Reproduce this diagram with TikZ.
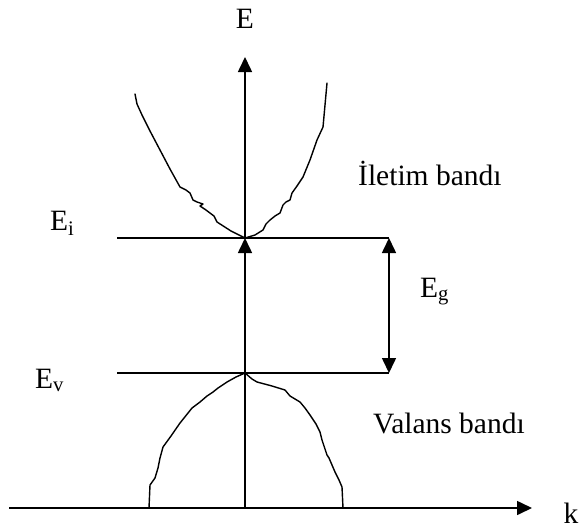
\documentclass[tikz,border=0pt]{standalone}
\usepackage{fontspec}
\setmainfont{Liberation Serif}
\usetikzlibrary{arrows.meta}
\begin{document}
\begin{tikzpicture}[x=1pt,y=-1pt,
  ln/.style={line width=1.6pt},
  arr/.style={ln,-{Triangle[length=15pt,width=14pt]}},
  darr/.style={ln,{Triangle[length=15pt,width=14pt]}-{Triangle[length=15pt,width=14pt]}},
  band/.style={line width=1.4pt,line join=round,line cap=round},
  lbl/.style={inner sep=0pt,font=\fontsize{29.5}{34}\selectfont}]
\useasboundingbox (0,0) rectangle (579,531);
% coordinates
\coordinate (O) at (245,508);
\coordinate (Hs) at (9,508);
\coordinate (Ke) at (532,508);
\coordinate (Ci) at (245,238);
\coordinate (Et) at (245,57);
\coordinate (Vi) at (245,373);
\coordinate (Eis) at (117,238);
\coordinate (Eie) at (389,238);
\coordinate (Evs) at (117,373);
\coordinate (Eve) at (389,373);
% axes
\draw[arr] (Hs) -- (Ke);
\draw[arr] (O) -- (Ci);
\draw[arr] (Ci) -- (Et);
% levels
\draw[ln] (Eis) -- (Eie);
\draw[ln] (Evs) -- (Eve);
\draw[darr] (Eie) -- (Eve);
% conduction band
\draw[band] (135,94) -- (137,104) -- (142,115) -- (150,131) -- (160,150) -- (170,169) -- (180,187) -- (186,190) -- (190,193) -- (193,200) -- (197,202) -- (203,204) -- (200,206) -- (206,210) -- (210,213) -- (214,216) -- (217,222) -- (231,231) -- (Ci);
\draw[band] (327,83) -- (325,105) -- (323,127) -- (317,140) -- (310,160) -- (303,177) -- (297,186) -- (292,193) -- (290,200) -- (286,202) -- (283,205) -- (280,213) -- (275,216) -- (270,220) -- (266,224) -- (263,230) -- (255,235) -- (Ci);
% valence band
\draw[band] (Vi) -- (236,377) -- (227,382) -- (218,388) -- (213,392) -- (207,396) -- (200,402) -- (192,408) -- (188,413) -- (180,423) -- (171,436) -- (163,447) -- (160,458) -- (158,468) -- (155,478) -- (150,485) -- (149,508);
\draw[band] (Vi) -- (252,379) -- (257,382) -- (272,386) -- (285,390) -- (290,396) -- (300,402) -- (305,408) -- (310,415) -- (316,424) -- (320,432) -- (322,440) -- (327,455) -- (329,458) -- (332,465) -- (335,472) -- (339,480) -- (342,487) -- (343,508);
% labels
\node[lbl,anchor=base] (lE) at (245,28) {E};
\node[lbl,anchor=base] (lk) at (571,523) {k};
\node[lbl,anchor=base west] (lEi) at (50,230) {E\textsubscript{i}};
\node[lbl,anchor=base west] (lEv) at (35,388) {E\textsubscript{v}};
\node[lbl,anchor=base west] (lEg) at (420,297) {E\textsubscript{g}};
\node[lbl,anchor=base west] (lI) at (358,185) {İletim bandı};
\node[lbl,anchor=base west] (lV) at (373,433) {Valans bandı};
\end{tikzpicture}
\end{document}
